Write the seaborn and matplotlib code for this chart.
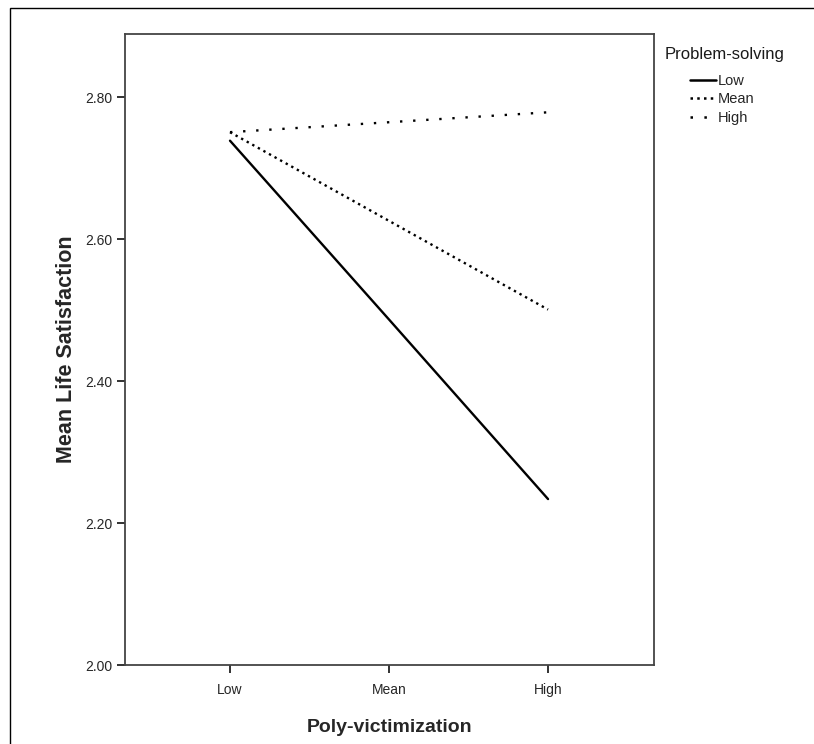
import matplotlib
matplotlib.use("Agg")
import matplotlib.pyplot as plt
import seaborn as sns
import pandas as pd
from matplotlib.lines import Line2D
from matplotlib.patches import Rectangle


# ---------------- DATA ----------------
categories = ["Low", "Mean", "High"]          # poly-victimization levels
ps_levels = ["Low", "Mean", "High"]           # problem-solving levels
low_ps = [2.739, 2.487, 2.234]
mean_ps = [2.751, 2.626, 2.501]
high_ps = [2.751, 2.765, 2.779]
y_ticks = [2.00, 2.20, 2.40, 2.60, 2.80]

df = pd.DataFrame({
    "Poly-victimization": categories * 3,
    "Life satisfaction": low_ps + mean_ps + high_ps,
    "Problem-solving": [lvl for lvl in ps_levels for _ in categories],
})

dash_map = {"Low": "", "Mean": (1, 1.7), "High": (1, 4.55)}


# ---------------- STYLE ----------------
sns.set_style("white")
plt.rcParams["font.family"] = ["Liberation Sans", "DejaVu Sans"]

fig = plt.figure(figsize=(8.14, 7.44), dpi=100)
ax = fig.add_axes([0.1536, 0.106, 0.650, 0.848])


# ---------------- PLOT ----------------
sns.lineplot(
    data=df, x="Poly-victimization", y="Life satisfaction",
    style="Problem-solving", style_order=ps_levels, dashes=dash_map,
    color="black", linewidth=1.7, sort=False, legend=False, ax=ax
)

ax.set_xlim(-0.66, 2.667)
ax.set_ylim(2.0, 2.889)
ax.set_yticks(y_ticks)
ax.set_yticklabels([f"{v:.2f}" for v in y_ticks])

ax.set_xlabel("Poly-victimization", fontsize=14, fontweight="bold", labelpad=16)
ax.set_ylabel("Mean Life Satisfaction", fontsize=15.5, fontweight="bold", labelpad=6)

ax.tick_params(axis="both", direction="out", length=6, width=1.3,
               color="#222222", labelsize=10, pad=3, left=True, bottom=True)
ax.tick_params(axis="x", pad=7)

for sp in ax.spines.values():
    sp.set_color("#444444")
    sp.set_linewidth(1.3)


# ---------------- LEGEND ----------------
fig.text(665 / 814, 1 - 55 / 744, "Problem-solving", fontsize=12,
         ha="left", va="center", color="#1a1a1a")

handles = [Line2D([], [], color="black", linewidth=1.8,
                  linestyle="-" if dash_map[k] == "" else (0, dash_map[k]))
           for k in ps_levels]
fig.legend(handles, ps_levels, loc="upper left",
           bbox_to_anchor=(690 / 814, 1 - 74 / 744),
           frameon=False, fontsize=10.5, handlelength=1.8,
           handletextpad=0.1, labelspacing=0.3, borderpad=0, borderaxespad=0)


# ---------------- OUTER FRAME ----------------
fig.add_artist(Rectangle((10 / 814, -0.1), 1.5, 1.1 - 8 / 744,
                         transform=fig.transFigure, fill=False,
                         edgecolor="black", linewidth=1.0))

fig.savefig("out.png", dpi=100)
plt.close(fig)
